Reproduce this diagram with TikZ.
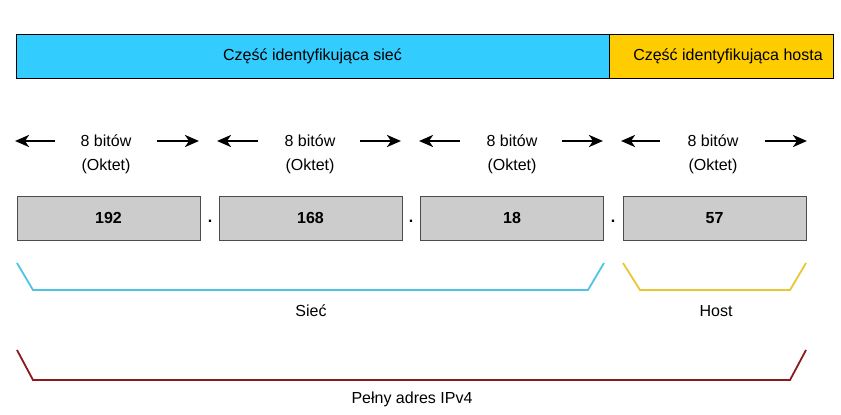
\documentclass[tikz,border=0pt]{standalone}
\usepackage{fontspec}
\setmainfont{Liberation Sans}
\usetikzlibrary{arrows.meta}
\definecolor{netblue}{HTML}{33CCFF}
\definecolor{hostyellow}{HTML}{FFCC00}
\definecolor{boxgray}{HTML}{CCCCCC}
\definecolor{brblue}{HTML}{4DC4E6}
\definecolor{bryellow}{HTML}{E8C832}
\definecolor{brred}{HTML}{8B1A1A}
\begin{document}
\begin{tikzpicture}[x=1pt,y=-1pt,
  txt/.style={font=\fontsize{16}{18}\selectfont, inner sep=0pt},
  bar/.style={draw=black, line width=0.8pt, inner sep=0pt, font=\fontsize{16}{18}\selectfont},
  octet/.style={draw=black!70, line width=0.8pt, fill=boxgray, minimum width=183pt, minimum height=44pt, inner sep=0pt, font=\bfseries\fontsize{16}{18}\selectfont},
  arr/.style={-{Stealth[length=14pt,width=12pt,inset=4pt]}, line width=2.4pt},
  brk/.style={line width=1.8pt},
  dotlab/.style={font=\bfseries\fontsize{16}{18}\selectfont, inner sep=0pt}
]
\useasboundingbox (0,0) rectangle (841,415);
% top bars
\node[bar, fill=netblue, minimum width=593pt, minimum height=44pt] (net) at (312.5,56) {Część identyfikująca sieć};
\node[bar, fill=hostyellow, minimum width=224pt, minimum height=44pt] (host) at (721,56) {\hspace*{14pt}Część identyfikująca hosta};

% octet labels and arrows
\foreach \i/\cx/\la/\lb/\ra/\rb in {1/106/55/15/157/199, 2/310/258/217/360/401, 3/512/460/419/562/603, 4/713/660/621/765/807}{
  \node[txt] (b\i) at (\cx,141) {8 bitów};
  \node[txt] (o\i) at (\cx,166) {(Oktet)};
  \coordinate (la\i) at (\la,141);
  \coordinate (lb\i) at (\lb,141);
  \coordinate (ra\i) at (\ra,141);
  \coordinate (rb\i) at (\rb,141);
  \draw[arr] (la\i) -- (lb\i);
  \draw[arr] (ra\i) -- (rb\i);
}

% octet boxes
\node[octet] (q1) at (108.5,218) {192};
\node[octet] (q2) at (310.5,218) {168};
\node[octet] (q3) at (512,218) {18};
\node[octet] (q4) at (714.5,218) {57};
\node[dotlab] (d1) at (210,221) {.};
\node[dotlab] (d2) at (411,221) {.};
\node[dotlab] (d3) at (613,221) {.};

% brackets
\coordinate (s1) at (17,263); \coordinate (s2) at (33,290); \coordinate (s3) at (588,290); \coordinate (s4) at (604,263);
\draw[brk, draw=brblue] (s1) -- (s2) -- (s3) -- (s4);
\coordinate (h1) at (623,263); \coordinate (h2) at (640,290); \coordinate (h3) at (790,290); \coordinate (h4) at (806,263);
\draw[brk, draw=bryellow] (h1) -- (h2) -- (h3) -- (h4);
\node[txt] (siec) at (311,311) {Sieć};
\node[txt] (hostl) at (716,311) {Host};
\coordinate (p1) at (17,350); \coordinate (p2) at (33,380); \coordinate (p3) at (790,380); \coordinate (p4) at (806,350);
\draw[brk, draw=brred] (p1) -- (p2) -- (p3) -- (p4);
\node[txt] (full) at (412,399) {Pełny adres IPv4};
\end{tikzpicture}
\end{document}
